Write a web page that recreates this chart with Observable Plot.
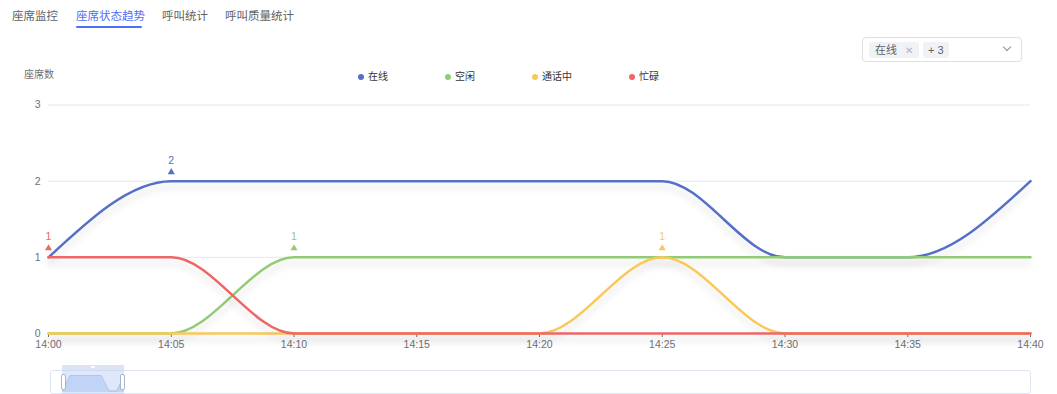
<!DOCTYPE html>
<html>
<head>
<meta charset="utf-8">
<script src="https://cdn.jsdelivr.net/npm/d3@7"></script>
<script src="https://cdn.jsdelivr.net/npm/@observablehq/plot@0.6"></script>
<style>
  html, body { margin: 0; padding: 0; background: #fff; }
  body { font-family: "Liberation Sans", "Noto Sans CJK SC", sans-serif; }
  #root { position: relative; width: 1057px; height: 394px; overflow: hidden; }
  .tab { position: absolute; top: 8px; font-size: 11.5px; color: #606266; line-height: 16px; white-space: nowrap; }
  .tab.active { color: #4f6ef7; }
  #underline { position: absolute; left: 76px; top: 26px; width: 66px; height: 2px; background: #4f6ef7; border-radius: 1px; }
  #select { position: absolute; left: 862px; top: 37px; width: 158px; height: 23px; border: 1px solid #dcdfe6; border-radius: 4px; background: #fff; }
  .tag { position: absolute; top: 4px; height: 16px; line-height: 16px; font-size: 11px; color: #606266; background: #f0f2f5; border-radius: 3px; padding: 0 5px; white-space: nowrap; }
  .tag .x { color: #a4b4cf; font-size: 10px; margin-left: 8px; }
  #chev { position: absolute; left: 1004px; top: 44px; width: 5px; height: 5px; border-right: 1px solid #8a8f99; border-bottom: 1px solid #8a8f99; transform: rotate(45deg); }
  #yname { position: absolute; left: 24px; top: 68px; font-size: 10px; color: #6e7079; line-height: 14px; }
  #legend { position: absolute; left: 358px; top: 70px; display: flex; gap: 57px; font-size: 10px; color: #333; line-height: 14px; }
  .li { display: flex; align-items: center; white-space: nowrap; }
  .li .d { width: 6px; height: 6px; border-radius: 50%; margin-right: 4px; }
  #chart { position: absolute; left: 0; top: 0; }
  #slider { position: absolute; left: 50px; top: 370px; width: 979px; height: 22px; border: 1px solid #dfe5f3; border-radius: 3px; background: #fff; }
  #sliderBg { position: absolute; left: 51px; top: 371px; width: 80px; height: 22px; background: #f3f5fb; }
  #sel { position: absolute; left: 62px; top: 370px; width: 62px; height: 24px; background: rgba(184, 204, 246, 0.45); }
  #selTop { position: absolute; left: 62px; top: 365px; width: 62px; height: 5px; background: #dbe3f4; }
  #selTop::after { content: ""; position: absolute; left: 29px; top: 1px; width: 4px; height: 2px; border-radius: 1px; background: #fff; }
  #mini { position: absolute; left: 62px; top: 370px; }
  .hd { position: absolute; top: 374px; width: 3px; height: 14px; background: #fff; border: 1px solid #a7b7cc; border-radius: 2px; }
</style>
</head>
<body>
<div id="root">
  <div class="tab" style="left:12px">座席监控</div>
  <div class="tab active" style="left:76px">座席状态趋势</div>
  <div class="tab" style="left:162px">呼叫统计</div>
  <div class="tab" style="left:225px">呼叫质量统计</div>
  <div id="underline"></div>
  <div id="select"></div>
  <div class="tag" style="left:869px;top:42px;padding:0 6px">在线<span class="x">✕</span></div>
  <div class="tag" style="left:923px;top:42px">+ 3</div>
  <div id="chev"></div>
  <div id="yname">座席数</div>
  <div id="legend"></div>
  <div id="chart"></div>
  <div id="sliderBg"></div>
  <div id="slider"></div>
  <div id="sel"></div>
  <div id="selTop"></div>
  <div id="mini"></div>
  <div class="hd" style="left:61px"></div>
  <div class="hd" style="left:120px"></div>
</div>
<script>
// ---- data ----
const times = ["14:00", "14:05", "14:10", "14:15", "14:20", "14:25", "14:30", "14:35", "14:40"];
const online  = [1, 2, 2, 2, 2, 2, 1, 1, 2];
const idle    = [0, 0, 1, 1, 1, 1, 1, 1, 1];
const talking = [0, 0, 0, 0, 0, 1, 0, 0, 0];
const busy    = [1, 1, 0, 0, 0, 0, 0, 0, 0];
const seriesNames = ["在线", "空闲", "通话中", "忙碌"];
const seriesColors = ["#5470c6", "#91cc75", "#fac858", "#ee6666"];
const yTicks = [0, 1, 2, 3];

const values = [online, idle, talking, busy];
const parse = d3.utcParse("%H:%M");
const fmt = d3.utcFormat("%H:%M");
const tickTimes = times.map(parse);

const rows = seriesNames.flatMap((name, i) =>
  values[i].map((v, j) => ({series: name, t: tickTimes[j], v})));
const maxRows = seriesNames.map((name, i) => {
  const j = d3.maxIndex(values[i]);
  return {series: name, t: tickTimes[j], v: values[i][j]};
});

// legend
const legend = document.getElementById("legend");
seriesNames.forEach((name, i) => {
  const el = document.createElement("div");
  el.className = "li";
  el.innerHTML = `<span class="d" style="background:${seriesColors[i]}"></span><span>${name}</span>`;
  legend.appendChild(el);
});

const chart = Plot.plot({
  width: 1057,
  height: 394,
  marginTop: 104.5,
  marginBottom: 61,
  marginLeft: 48,
  marginRight: 27,
  style: {fontFamily: '"Liberation Sans", "Noto Sans CJK SC", sans-serif', fontSize: "10.5px", color: "#6e7079", background: "transparent", overflow: "visible"},
  x: {type: "utc", domain: [tickTimes[0], tickTimes[tickTimes.length - 1]]},
  y: {domain: [0, 3]},
  color: {domain: seriesNames, range: seriesColors},
  marks: [
    Plot.gridY(yTicks, {stroke: "#e0e6f1", strokeOpacity: 1}),
    Plot.ruleY([0], {stroke: "#6e7079"}),
    Plot.axisX(tickTimes, {tickFormat: fmt, tickSize: 4, tickPadding: 3, label: null}),
    Plot.axisY(yTicks, {tickFormat: d => String(d), tickSize: 0, tickPadding: 8, label: null}),
    Plot.line(rows, {x: "t", y: "v", z: "series", stroke: "series", curve: "monotone-x", strokeWidth: 2.5}),
    Plot.dot(maxRows, {x: "t", y: "v", fill: "series", symbol: "triangle", r: 2.6, dy: -9}),
    Plot.text(maxRows, {x: "t", y: "v", text: d => String(d.v), fill: "series", dy: -21, fontSize: 10.5})
  ]
});

// soft line shadow
const ns = "http://www.w3.org/2000/svg";
const defs = document.createElementNS(ns, "defs");
defs.innerHTML = `<filter id="shd" x="-5%" y="-20%" width="110%" height="160%"><feDropShadow dx="0" dy="6" stdDeviation="3.5" flood-color="#000" flood-opacity="0.12"/></filter>`;
chart.insertBefore(defs, chart.firstChild);
chart.querySelectorAll('g[aria-label="line"] path').forEach(p => p.setAttribute("filter", "url(#shd)"));
document.getElementById("chart").appendChild(chart);

// slider data shadow (在线 series)
const miniRows = online.map((v, j) => ({t: tickTimes[j], v}));
const mini = Plot.plot({
  width: 62, height: 23, margin: 0,
  style: {background: "transparent", overflow: "hidden"},
  x: {type: "utc", domain: [tickTimes[0], tickTimes[tickTimes.length - 1]], axis: null},
  y: {domain: [0.9, 2], range: [22, 5], axis: null},
  marks: [
    Plot.areaY(miniRows, {x: "t", y1: 0.9, y2: "v", fill: "#b9cdf6", fillOpacity: 0.8}),
    Plot.lineY(miniRows, {x: "t", y: "v", stroke: "#b0c4ef", strokeWidth: 1})
  ]
});
document.getElementById("mini").appendChild(mini);
</script>
</body>
</html>
